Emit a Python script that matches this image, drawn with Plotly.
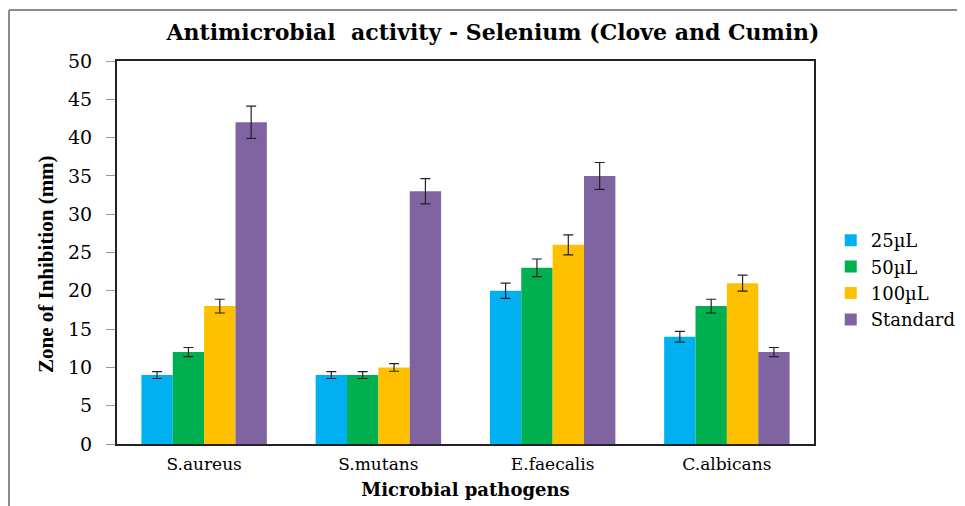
import plotly.graph_objects as go

categories = ["S.aureus", "S.mutans", "E.faecalis", "C.albicans"]
series_names = ["25\u00b5L", "50\u00b5L", "100\u00b5L", "Standard"]
v25 = [9, 9, 20, 14]
v50 = [12, 9, 23, 18]
v100 = [18, 10, 26, 21]
vstd = [42, 33, 35, 12]
e25 = [0.45, 0.45, 1.0, 0.7]
e50 = [0.6, 0.45, 1.15, 0.9]
e100 = [0.9, 0.5, 1.3, 1.05]
estd = [2.1, 1.65, 1.75, 0.6]
colors = ["#00B0F0", "#00B050", "#FFC000", "#8064A2"]

W, H = 957, 498
L, R, T, B = 109, 151, 53, 62
PW, PH = W - L - R, H - T - B

fig = go.Figure()
for name, vals, errs, col in zip(series_names, [v25, v50, v100, vstd], [e25, e50, e100, estd], colors):
    fig.add_trace(go.Bar(
        x=categories, y=vals, name=name, marker=dict(color=col, line=dict(width=0)),
        error_y=dict(type="data", array=errs, visible=True, color="#222222", thickness=1.2, width=5),
    ))

fig.update_layout(
    width=W, height=H,
    margin=dict(l=L, r=R, t=T, b=B, autoexpand=False),
    paper_bgcolor="white", plot_bgcolor="white",
    barmode="group", bargap=0.28, bargroupgap=0,
    title=dict(text="<b>Antimicrobial  activity - Selenium (Clove and Cumin)</b>",
               x=485 / W, xref="container", xanchor="center", y=1 - 24 / H, yanchor="middle",
               font=dict(family="DejaVu Serif", size=22, color="black")),
    font=dict(family="DejaVu Serif", color="black"),
    legend=dict(x=1.024, y=(436 - 272) / PH, xanchor="left", yanchor="middle",
                font=dict(family="DejaVu Serif", size=18, color="black"),
                itemwidth=30, tracegroupgap=2),
    showlegend=True,
)
fig.update_xaxes(
    showline=True, linecolor="#222222", linewidth=2, mirror=True,
    showgrid=False, ticks="", ticklabelstandoff=4, tickfont=dict(family="DejaVu Serif", size=17),
    title=dict(text="<b>Microbial pathogens</b>", font=dict(family="DejaVu Serif", size=18), standoff=10),
)
fig.update_yaxes(
    range=[0, 50], dtick=5, showline=True, linecolor="#222222", linewidth=2, mirror=True,
    showgrid=False, ticks="outside", ticklen=9, tickcolor="#999999", ticklabelstandoff=10,
    tickfont=dict(family="DejaVu Serif", size=19),
)
fig.add_annotation(text="<b>Zone of Inhibition (mm)</b>", textangle=-90, xref="paper", yref="paper",
                   x=(38 - L) / PW, y=(436 - 256) / PH, xanchor="center", yanchor="middle", showarrow=False,
                   font=dict(family="Liberation Serif", size=21, color="black"))
# outer frame lines (top and left)
fig.add_shape(type="line", xref="paper", yref="paper", x0=(1 - L) / PW, x1=(W - L) / PW,
              y0=1 + (T - 2) / PH, y1=1 + (T - 2) / PH, line=dict(color="#8c8c8c", width=2))
fig.add_shape(type="line", xref="paper", yref="paper", x0=(1 - L) / PW, x1=(1 - L) / PW,
              y0=-B / PH, y1=1 + (T - 2) / PH, line=dict(color="#8c8c8c", width=2))

fig.write_html("out.html")
